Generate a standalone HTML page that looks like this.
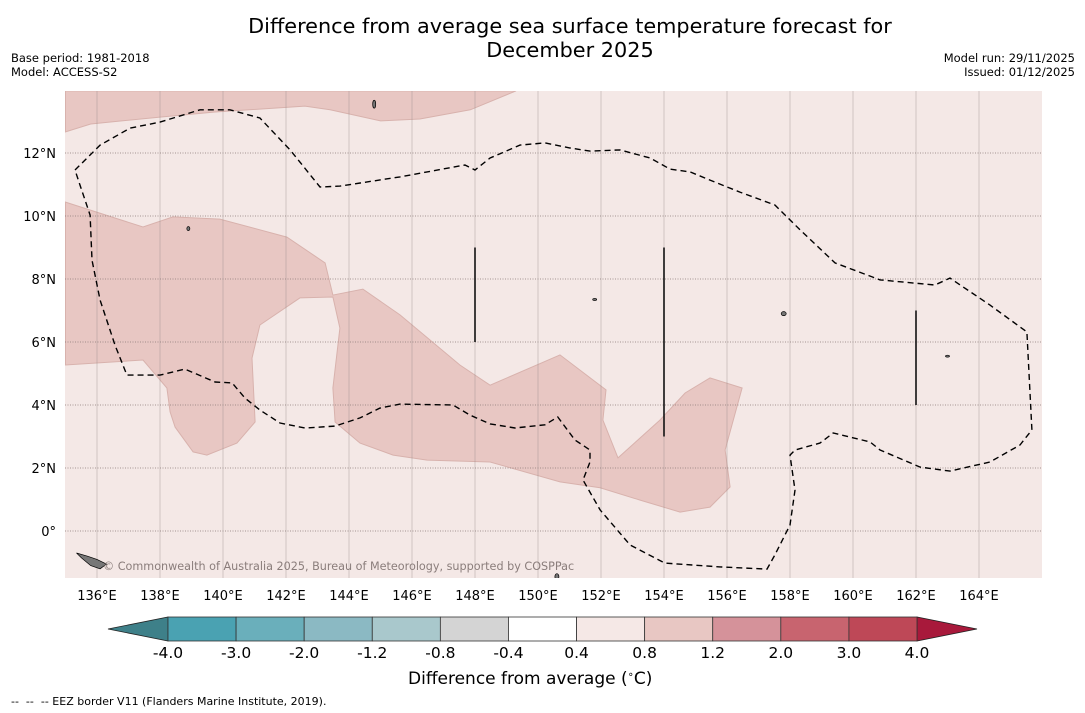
<!DOCTYPE html>
<html><head><meta charset="utf-8">
<style>
html,body{margin:0;padding:0;background:#fff;}
body{width:1085px;height:713px;overflow:hidden;position:relative;font-family:"DejaVu Sans","Liberation Sans",sans-serif;}
.t{position:absolute;color:#000;}
</style></head>
<body>
<div class="t" style="left:0;width:1140px;top:14px;text-align:center;font-size:20.8px;line-height:24px;">Difference from average sea surface temperature forecast for<br>December 2025</div>
<div class="t" style="left:11px;top:51px;font-size:11.5px;line-height:14px;">Base period: 1981-2018<br>Model: ACCESS-S2</div>
<div class="t" style="right:10px;top:51px;font-size:11.5px;line-height:14px;text-align:right;">Model run: 29/11/2025<br>Issued: 01/12/2025</div>
<svg id="map" width="1085" height="713" style="position:absolute;left:0;top:0;"></svg>
<div class="t" style="left:408px;top:669px;font-size:17px;">Difference from average (<sup style="font-size:10px">∘</sup>C)</div>
<div class="t" style="left:11px;top:695px;font-size:11px;">-- &nbsp;-- &nbsp;-- EEZ border V11 (Flanders Marine Institute, 2019).</div>
<script>
const lonTicks=[136,138,140,142,144,146,148,150,152,154,156,158,160,162,164];
const latTicks=[0,2,4,6,8,10,12];
const cbLevels=["-4.0","-3.0","-2.0","-1.2","-0.8","-0.4","0.4","0.8","1.2","2.0","3.0","4.0"];
const cbColors=["#4aa2b2","#6aafbb","#8bb9c3","#a9c8cc","#d4d4d4","#ffffff","#f5e8e6","#e8c7c3","#d5929a","#c8646f","#be4857"];
const topBand=[[135.0,12.67],[135.8,12.92],[138.0,13.14],[139.75,13.3],[142.6,13.49],[143.4,13.37],[145.0,13.02],[146.25,13.08],[147.85,13.37],[149.3,13.97],[135.0,13.97]];
const mainRegion=[[135.0,10.44],[137.46,9.65],[138.41,9.97],[139.9,9.9],[142.03,9.33],[143.24,8.51],[143.49,7.49],[144.44,7.68],[145.62,6.86],[147.52,5.27],[148.48,4.63],[150.7,5.59],[152.16,4.48],[152.06,3.52],[152.54,2.32],[153.87,3.52],[154.67,4.38],[155.46,4.86],[156.48,4.54],[155.94,2.57],[156.1,1.4],[155.46,0.76],[154.51,0.6],[153.24,0.98],[151.97,1.37],[150.7,1.56],[148.48,2.19],[146.48,2.25],[145.4,2.41],[144.35,2.79],[143.56,3.46],[143.49,4.54],[143.71,6.44],[143.49,7.43],[142.44,7.4],[141.17,6.54],[140.92,5.49],[141.02,3.46],[140.44,2.79],[139.49,2.41],[139.05,2.51],[138.48,3.3],[138.32,3.78],[138.22,4.54],[137.46,5.43],[135.0,5.27]];
const eez=[[135.3,11.46],[136.1,12.25],[137.05,12.79],[138.0,12.98],[139.27,13.37],[140.22,13.37],[141.17,13.11],[142.13,12.1],[143.08,10.92],[143.71,10.95],[145.62,11.24],[147.68,11.62],[148.0,11.46],[148.48,11.84],[149.43,12.25],[150.22,12.32],[151.02,12.16],[151.65,12.06],[152.6,12.1],[153.56,11.84],[154.19,11.49],[154.83,11.4],[155.46,11.14],[156.41,10.76],[157.52,10.35],[158.32,9.56],[159.43,8.51],[160.86,7.97],[162.6,7.81],[163.08,8.03],[164.35,7.17],[165.52,6.32],[165.68,3.21],[165.3,2.73],[164.35,2.19],[163.08,1.9],[162.13,2.03],[160.86,2.57],[160.54,2.83],[159.37,3.11],[158.95,2.79],[158.16,2.57],[158.0,2.41],[158.16,1.3],[158.0,0.19],[157.52,-0.76],[157.27,-1.21],[155.78,-1.14],[154.03,-1.02],[152.92,-0.44],[151.97,0.67],[151.43,1.62],[151.65,2.19],[151.65,2.57],[151.17,2.89],[150.63,3.62],[150.22,3.37],[149.27,3.27],[148.48,3.4],[147.84,3.68],[147.3,4.0],[145.62,4.03],[144.98,3.9],[144.35,3.59],[143.56,3.33],[142.6,3.27],[141.81,3.43],[141.17,3.84],[140.7,4.22],[140.29,4.7],[139.75,4.73],[138.79,5.14],[138.0,4.95],[136.95,4.95],[136.57,5.9],[136.1,7.33],[135.84,8.6],[135.78,10.03],[135.46,10.98],[135.3,11.46]];
const segLines=[[148,9,6],[154,9,3],[162,7,4]];
const islands=[[144.8,13.55,1.5,4],[138.9,9.6,1.5,2],[157.8,6.9,2.5,2],[151.8,7.35,2,1],[163.0,5.55,2,1],[150.6,-1.45,2,3]];
const solomon=[[135.35,-0.7],[135.7,-0.8],[136.0,-0.9],[136.3,-1.05],[136.1,-1.2],[135.8,-1.1],[135.5,-0.85]];

const NS="http://www.w3.org/2000/svg";
const svg=document.getElementById('map');
const X0=65,X1=1042,Y0=91,Y1=578;
const sx=lon=>97+(lon-136)*31.5;
const sy=lat=>531-lat*31.5;
function mk(tag,attrs){const e=document.createElementNS(NS,tag);for(const k in attrs)e.setAttribute(k,attrs[k]);svg.appendChild(e);return e;}
function pts(a){return a.map(p=>sx(p[0]).toFixed(1)+','+sy(p[1]).toFixed(1)).join(' ');}
const clip=mk('clipPath',{id:'mc'});
const cr=document.createElementNS(NS,'rect');cr.setAttribute('x',X0);cr.setAttribute('y',Y0);cr.setAttribute('width',X1-X0);cr.setAttribute('height',Y1-Y0);clip.appendChild(cr);
const g=mk('g',{'clip-path':'url(#mc)'});
function add(tag,attrs){const e=document.createElementNS(NS,tag);for(const k in attrs)e.setAttribute(k,attrs[k]);g.appendChild(e);return e;}
let bg=add('rect',{x:X0,y:Y0,width:X1-X0,height:Y1-Y0,fill:'#f4e8e6'});


let tb=add('polygon',{points:pts(topBand),fill:'#e8c7c3',stroke:'#d8b2ad','stroke-width':1});


let mr=add('polygon',{points:pts(mainRegion),fill:'#e8c7c3',stroke:'#d8b2ad','stroke-width':1});


lonTicks.forEach(l=>{let e=add('line',{x1:sx(l),x2:sx(l),y1:Y0,y2:Y1,stroke:'#9a8c8a','stroke-width':0.5,'stroke-opacity':0.8});

});
latTicks.forEach(l=>{let e=add('line',{x1:X0,x2:X1,y1:sy(l),y2:sy(l),stroke:'#8a7a78','stroke-width':0.8,'stroke-dasharray':'1,1.5'});

});
let ez=add('polyline',{points:pts(eez),fill:'none',stroke:'#000','stroke-width':1.4,'stroke-dasharray':'6,4'});


segLines.forEach(s=>{let e=add('line',{x1:sx(s[0]),x2:sx(s[0]),y1:sy(s[1]),y2:sy(s[2]),stroke:'#111','stroke-width':1.6});

});
islands.forEach(s=>{let e=add('ellipse',{cx:sx(s[0]),cy:sy(s[1]),rx:s[2],ry:s[3],fill:'#777',stroke:'#000','stroke-width':0.7});

});
let so=add('polygon',{points:pts(solomon),fill:'#777',stroke:'#000','stroke-width':0.7});


let cp=add('text',{x:103,y:570,'font-size':11.2,fill:'#8a7d7b','font-family':'DejaVu Sans, sans-serif'});
cp.textContent='© Commonwealth of Australia 2025, Bureau of Meteorology, supported by COSPPac';


lonTicks.forEach(l=>{let t=mk('text',{x:sx(l),y:600,'font-size':13,'text-anchor':'middle','font-family':'DejaVu Sans, sans-serif'});t.textContent=l+'°E';

});
latTicks.forEach(l=>{let t=mk('text',{x:56,y:sy(l)+5,'font-size':13,'text-anchor':'end','font-family':'DejaVu Sans, sans-serif'});t.textContent=l===0?'0°':l+'°N';

});
const cbL=168,cbR=917,cbT=617,cbB=641;
const bw=(cbR-cbL)/cbColors.length;
let lt=mk('polygon',{points:`${cbL},${cbT} ${cbL},${cbB} 108,${(cbT+cbB)/2}`,fill:'#3e8089',stroke:'#222','stroke-width':0.8});


let rt=mk('polygon',{points:`${cbR},${cbT} ${cbR},${cbB} 977,${(cbT+cbB)/2}`,fill:'#a8193b',stroke:'#222','stroke-width':0.8});


cbColors.forEach((c,i)=>{let r=mk('rect',{x:cbL+i*bw,y:cbT,width:bw,height:cbB-cbT,fill:c,stroke:'#333','stroke-width':0.8});

});
cbLevels.forEach((s,i)=>{let t=mk('text',{x:cbL+i*bw,y:658,'font-size':15.5,'text-anchor':'middle','font-family':'DejaVu Sans, sans-serif'});t.textContent=s;

});
</script>
</body></html>
